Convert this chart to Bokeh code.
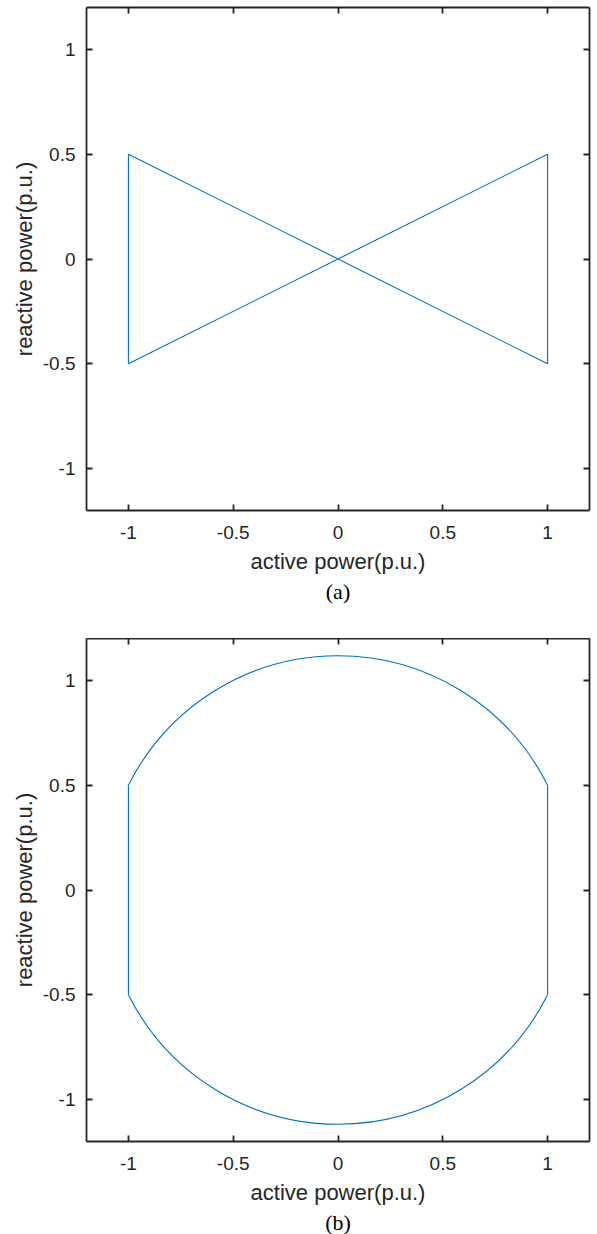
from bokeh.plotting import figure
from bokeh.models import Range1d, LinearAxis, FixedTicker, Title
from bokeh.layouts import column
from bokeh.embed import file_html
from bokeh.resources import INLINE

# ---- data ----
tick_values = [-1, -0.5, 0, 0.5, 1]
tick_labels = ["-1", "-0.5", "0", "0.5", "1"]

# (a) bow-tie boundary (closed path)
bowtie_p = [-1, -1, 1, 1, -1]
bowtie_q = [-0.5, 0.5, -0.5, 0.5, -0.5]

# (b) vertical edges + circular caps
edge_p = [-1, 1]
edge_q_low = [-0.5, -0.5]
edge_q_high = [0.5, 0.5]
arc_center_p = [0, 0]
arc_center_q = [0, 0]
arc_radius = 1.118
arc_start = [0.4636, 3.6052]
arc_end = [2.6779, 5.8195]

x_label = "active power(p.u.)"
y_label = "reactive power(p.u.)"
captions = ["(a)", "(b)"]

AX = "#262626"
LINE = "#0072BD"
overrides = {v: s for v, s in zip(tick_values, tick_labels)}


def make_fig(caption, border_top, border_bottom):
    p = figure(frame_width=503, frame_height=503,
               x_range=Range1d(-1.2, 1.2), y_range=Range1d(-1.2, 1.2),
               output_backend="svg", toolbar_location=None,
               min_border_left=86, min_border_right=3,
               min_border_top=border_top, min_border_bottom=border_bottom,
               x_axis_label=x_label, y_axis_label=y_label)
    p.outline_line_color = None
    p.grid.visible = False
    p.background_fill_color = "white"
    p.border_fill_color = "white"
    for ax in [p.xaxis[0], p.yaxis[0]]:
        ax.ticker = FixedTicker(ticks=tick_values)
        ax.major_label_overrides = overrides
        ax.axis_line_color = AX
        ax.axis_line_width = 1.8
        ax.major_tick_line_color = AX
        ax.major_tick_line_width = 1.8
        ax.major_tick_in = 6
        ax.major_tick_out = 0
        ax.minor_tick_line_color = None
        ax.major_label_text_font = "Liberation Sans"
        ax.major_label_text_font_size = "19px"
        ax.major_label_text_color = AX
        ax.axis_label_text_font = "Liberation Sans"
        ax.axis_label_text_font_size = "22px"
        ax.axis_label_text_font_style = "normal"
        ax.axis_label_text_color = AX
    p.xaxis[0].major_label_standoff = 15
    p.xaxis[0].axis_label_standoff = 7
    p.yaxis[0].major_label_standoff = 11
    p.yaxis[0].axis_label_standoff = 3
    for loc in ["above", "right"]:
        ax = LinearAxis(ticker=FixedTicker(ticks=tick_values),
                        major_label_text_font_size="1px",
                        major_label_text_color=None,
                        major_label_standoff=0,
                        axis_line_color=AX, axis_line_width=1.8,
                        major_tick_line_color=AX, major_tick_line_width=1.8,
                        major_tick_in=6, major_tick_out=0,
                        minor_tick_line_color=None)
        p.add_layout(ax, loc)
    p.add_layout(Title(text=caption, align="center",
                       text_font="Liberation Serif", text_font_size="22px",
                       text_font_style="normal", text_color="black",
                       standoff=1), "below")
    return p


pa = make_fig(captions[0], 7, 128)
pa.line(bowtie_p, bowtie_q, line_color=LINE, line_width=1.1)

pb = make_fig(captions[1], 0, 92)
pb.segment(x0=edge_p, y0=edge_q_low, x1=edge_p, y1=edge_q_high,
           line_color=LINE, line_width=1.1)
pb.arc(x=arc_center_p, y=arc_center_q, radius=arc_radius,
       start_angle=arc_start, end_angle=arc_end,
       line_color=LINE, line_width=1.1)

layout = column(pa, pb, spacing=0)
open("out.html", "w").write(file_html(layout, INLINE))
